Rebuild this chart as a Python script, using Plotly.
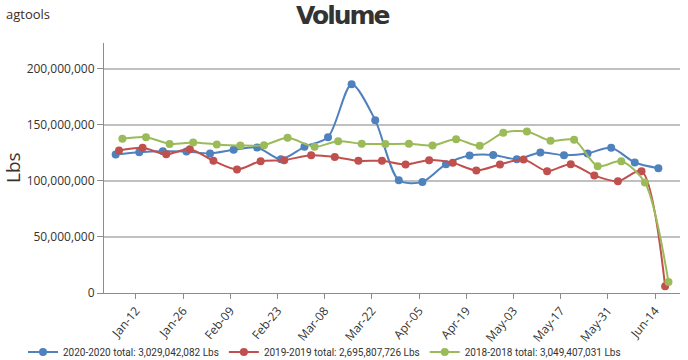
import plotly.graph_objects as go

# Weekly dates (prior years mapped onto the 2020 calendar)
dates_2020 = ["2020-01-06", "2020-01-13", "2020-01-20", "2020-01-27", "2020-02-03", "2020-02-10",
              "2020-02-17", "2020-02-24", "2020-03-02", "2020-03-09", "2020-03-16", "2020-03-23",
              "2020-03-30", "2020-04-06", "2020-04-13", "2020-04-20", "2020-04-27", "2020-05-04",
              "2020-05-11", "2020-05-18", "2020-05-25", "2020-06-01", "2020-06-08", "2020-06-15"]
dates_2019 = ["2020-01-07", "2020-01-14", "2020-01-21", "2020-01-28", "2020-02-04", "2020-02-11",
              "2020-02-18", "2020-02-25", "2020-03-04", "2020-03-11", "2020-03-18", "2020-03-25",
              "2020-04-01", "2020-04-08", "2020-04-15", "2020-04-22", "2020-04-29", "2020-05-06",
              "2020-05-13", "2020-05-20", "2020-05-27", "2020-06-03", "2020-06-10", "2020-06-17"]
dates_2018 = ["2020-01-08", "2020-01-15", "2020-01-22", "2020-01-29", "2020-02-05", "2020-02-12",
              "2020-02-19", "2020-02-26", "2020-03-05", "2020-03-12", "2020-03-19", "2020-03-26",
              "2020-04-02", "2020-04-09", "2020-04-16", "2020-04-23", "2020-04-30", "2020-05-07",
              "2020-05-14", "2020-05-21", "2020-05-28", "2020-06-04", "2020-06-11", "2020-06-18"]

# Volumes in millions of lbs
vol_2020 = [123.6, 125.6, 126.5, 126.2, 124.5, 127.7, 129.8, 119.4, 130.4, 139.0, 186.3, 154.2,
            100.6, 99.1, 114.9, 122.7, 123.2, 119.4, 125.4, 122.9, 124.5, 129.5, 116.4, 111.3]
vol_2019 = [127.1, 129.5, 123.8, 128.3, 117.9, 110.2, 117.6, 118.5, 122.9, 121.4, 117.9, 117.9,
            114.6, 118.5, 116.1, 109.3, 114.6, 119.1, 108.7, 114.9, 104.8, 99.7, 108.7, 6.0]
vol_2018 = [137.5, 139.0, 133.0, 134.3, 132.5, 131.6, 131.9, 138.4, 130.4, 135.4, 133.1, 132.8,
            133.1, 131.6, 137.2, 131.3, 142.9, 144.1, 135.7, 136.6, 113.1, 117.6, 98.6, 9.8]

series_names = ["2020-2020 total: 3,029,042,082 Lbs",
                "2019-2019 total: 2,695,807,726 Lbs",
                "2018-2018 total: 3,049,407,031 Lbs"]
colors = ["#4f81bd", "#c0504d", "#9bbb59"]
y_ticks = [0, 50_000_000, 100_000_000, 150_000_000, 200_000_000]

fig = go.Figure()
for name, xs, vals, col in zip(series_names, [dates_2020, dates_2019, dates_2018],
                               [vol_2020, vol_2019, vol_2018], colors):
    fig.add_trace(go.Scatter(
        x=xs, y=[v * 1_000_000 for v in vals], name=name, mode="lines+markers",
        line=dict(color=col, width=2, shape="spline", smoothing=0.8),
        marker=dict(color=col, size=8),
    ))

W, H = 688, 360
L, R, T, B = 104, 8, 43, 67
plot_w = W - L - R
plot_h = H - T - B


def px_x(page_x):
    return (page_x - L) / plot_w


def px_y(page_y):
    return 1 - (page_y - T) / plot_h


font_main = "Open Sans, Noto Sans, sans-serif"
fig.update_layout(
    width=W, height=H,
    margin=dict(l=L, r=R, t=T, b=B, autoexpand=False),
    paper_bgcolor="white", plot_bgcolor="white",
    font=dict(family=font_main, size=12, color="#333333"),
    showlegend=True,
    legend=dict(orientation="h", x=px_x(23), xanchor="left",
                y=px_y(352), yanchor="middle",
                font=dict(family="Roboto, sans-serif", size=10, color="#333333"), itemwidth=30,
                bgcolor="rgba(0,0,0,0)", tracegroupgap=0),
    xaxis=dict(type="date", range=["2020-01-02 13:00", "2020-06-21 10:00"],
               tick0="2020-01-12", dtick=14 * 86400000, tickformat="%b-%d",
               tickangle=-50, ticks="outside", ticklen=5, tickcolor="#8c8c8c",
               showline=True, linecolor="#8c8c8c", linewidth=1, automargin=False,
               showgrid=False, zeroline=False,
               tickfont=dict(size=12, color="#333333")),
    yaxis=dict(range=[0, 223_000_000], tickvals=y_ticks, tickformat=",",
               ticks="outside", ticklen=6, tickcolor="#8c8c8c", automargin=False,
               showline=True, linecolor="#8c8c8c", linewidth=1,
               showgrid=True, gridcolor="#c0c0c0", gridwidth=1.5, zeroline=False,
               tickfont=dict(size=12, color="#333333")),
    annotations=[
        dict(text="<b><span style='letter-spacing:-2px'>Volume</span></b>",
             x=px_x(343), xref="paper", y=px_y(16), yref="paper",
             showarrow=False, xanchor="center", yanchor="middle",
             font=dict(family="DejaVu Sans, sans-serif", size=25, color="#333333")),
        dict(text="Lbs", textangle=-90, x=px_x(13), xref="paper", y=0.5, yref="paper",
             showarrow=False, font=dict(size=19, color="#333333"), xanchor="center", yanchor="middle"),
        dict(text="<span style='color:#4a2716'>ag</span><span style='color:#3d2a20'>tools</span>",
             x=px_x(4), xref="paper", y=px_y(14), yref="paper", showarrow=False,
             font=dict(size=13, family="Open Sans, sans-serif"), xanchor="left", yanchor="middle"),
    ],
)

# Remove the default 8px page margin so the figure fills the window exactly.
fig.write_html("out.html", config={"displayModeBar": False},
               post_script="document.body.style.margin='0px';")
